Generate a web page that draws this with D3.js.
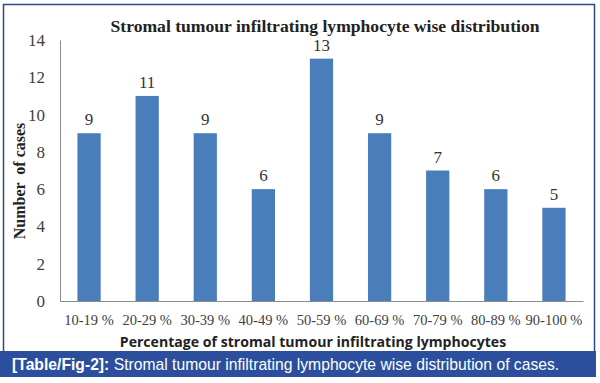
<!DOCTYPE html>
<html>
<head>
<meta charset="utf-8">
<script src="https://cdn.jsdelivr.net/npm/d3@7"></script>
<style>
  body { margin: 0; background: #fff; }
</style>
</head>
<body>
<div id="chart"></div>
<script>
const categories = ["10-19 %", "20-29 %", "30-39 %", "40-49 %", "50-59 %", "60-69 %", "70-79 %", "80-89 %", "90-100 %"];
const cases = [9, 11, 9, 6, 13, 9, 7, 6, 5];
const yTicks = [0, 2, 4, 6, 8, 10, 12, 14];

const svg = d3.select("#chart")
    .append("svg")
    .attr("width", 600)
    .attr("height", 383);

// frame
svg.append("rect")
    .attr("x", 3.5)
    .attr("y", 4.5)
    .attr("width", 591)
    .attr("height", 350)
    .style("fill", "#fff")
    .style("stroke", "#2c4a80")
    .style("stroke-width", 1.5);

const x = d3.scaleBand()
    .domain(categories)
    .range([60, 583])
    .paddingInner(0.6)
    .paddingOuter(0.3);

const y = d3.scaleLinear()
    .domain([0, 14])
    .range([301, 40]);

// axes
const yAxis = svg.append("g")
    .attr("transform", "translate(60,0)")
    .call(d3.axisLeft(y).tickValues(yTicks).tickSize(0).tickPadding(15));
yAxis.select(".domain").style("stroke", "#8c8c8c");
yAxis.selectAll("text")
    .style("font-family", "'Liberation Serif', serif")
    .style("font-size", "17px")
    .style("fill", "#404040");

const xAxis = svg.append("g")
    .attr("transform", "translate(0,301)")
    .call(d3.axisBottom(x).tickSize(0).tickPadding(14));
xAxis.select(".domain").style("stroke", "#8c8c8c");
xAxis.selectAll("text")
    .style("font-family", "'Liberation Serif', serif")
    .style("font-size", "14.5px")
    .style("fill", "#404040");

// bars
svg.selectAll(".bar")
    .data(cases)
    .enter()
    .append("rect")
    .attr("class", "bar")
    .attr("x", (d, i) => x(categories[i]))
    .attr("y", d => y(d))
    .attr("width", x.bandwidth())
    .attr("height", d => y(0) - y(d))
    .style("fill", "#4a7ebb");

// value labels
svg.selectAll(".val")
    .data(cases)
    .enter()
    .append("text")
    .attr("class", "val")
    .attr("x", (d, i) => x(categories[i]) + x.bandwidth() / 2)
    .attr("y", d => y(d) - 8)
    .attr("text-anchor", "middle")
    .style("font-family", "'Liberation Serif', serif")
    .style("font-size", "17px")
    .style("fill", "#333")
    .text(d => d);

// title
svg.append("text")
    .attr("x", 325)
    .attr("y", 32)
    .attr("text-anchor", "middle")
    .style("font-family", "'Liberation Serif', serif")
    .style("font-weight", "bold")
    .style("font-size", "17.6px")
    .style("fill", "#222")
    .text("Stromal tumour infiltrating lymphocyte wise distribution");

// y axis title
svg.append("text")
    .attr("transform", "translate(25,181) rotate(-90)")
    .attr("text-anchor", "middle")
    .style("font-family", "'Liberation Serif', serif")
    .style("font-weight", "bold")
    .style("font-size", "16px")
    .style("fill", "#222")
    .style("white-space", "pre")
    .text("Number  of cases");

// x axis title
svg.append("text")
    .attr("x", 313)
    .attr("y", 347)
    .attr("text-anchor", "middle")
    .style("font-family", "'Open Sans', sans-serif")
    .style("font-weight", "bold")
    .style("font-size", "14.1px")
    .style("fill", "#222")
    .text("Percentage of stromal tumour infiltrating lymphocytes");

// caption
svg.append("rect")
    .attr("x", 0)
    .attr("y", 351)
    .attr("width", 596)
    .attr("height", 26)
    .style("fill", "#2b4f9c");

const cap = svg.append("text")
    .attr("x", 12)
    .attr("y", 370)
    .style("font-family", "'Liberation Sans', Arial, sans-serif")
    .style("font-size", "15.7px")
    .style("fill", "#fff");
cap.append("tspan")
    .style("font-weight", "bold")
    .text("[Table/Fig-2]:");
cap.append("tspan")
    .text(" Stromal tumour infiltrating lymphocyte wise distribution of cases.");
</script>
</body>
</html>
